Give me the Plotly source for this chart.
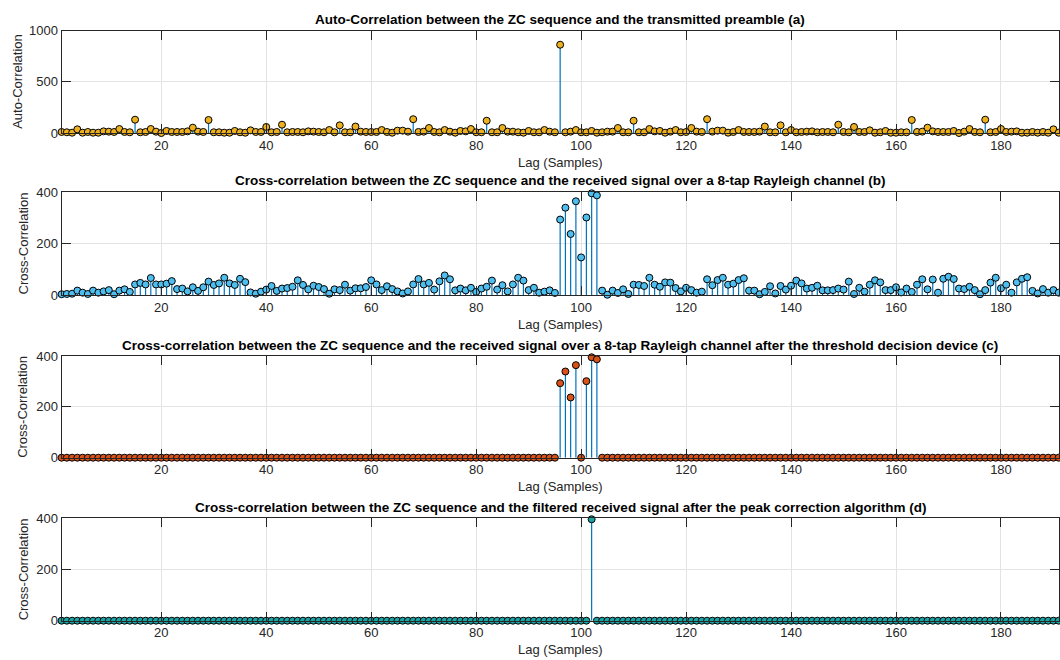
import plotly.graph_objects as go

# Lag axis (samples)
lags = list(range(1, 192))

# (a) auto-correlation magnitude
auto_corr = [
    10, 7, 3, 36, 3, 10, 3, 3, 16, 13, 10, 39, 10, 7, 130, 7, 10, 39, 13, 0,
    20, 10, 10, 10, 16, 52, 13, 10, 127, 7, 7, 3, 3, 20, 7, 3, 26, 10, 10, 59,
    7, 10, 81, 7, 10, 10, 7, 16, 13, 10, 7, 29, 7, 75, 7, 7, 63, 13, 10, 10,
    10, 29, 10, 3, 23, 23, 13, 135, 10, 13, 49, 10, 7, 29, 13, 3, 20, 16, 39, 7,
    7, 120, 7, 7, 49, 13, 13, 7, 3, 20, 7, 7, 29, 13, 7,
    863,
    7, 13, 29, 7, 7, 20, 3, 7, 13, 13, 49, 7, 7, 120, 7,
    7, 39, 16, 20, 3, 13, 29, 7, 10, 49, 13, 10, 135, 13, 23, 23, 3, 10, 29, 10,
    10, 10, 13, 63, 7, 7, 75, 7, 29, 7, 10, 13, 16, 7, 10, 10, 7, 81, 10, 7,
    59, 10, 10, 26, 3, 7, 20, 3, 3, 7, 7, 127, 10, 13, 52, 16, 10, 10, 10, 20,
    0, 13, 39, 10, 7, 130, 7, 10, 39, 10, 13, 16, 3, 3, 10, 3, 10, 3, 36, 3, 7, 10,
]

# (b) cross-correlation over the 8-tap Rayleigh channel
cross_corr = [
    3, 4, 5, 17, 9, 4, 17, 9, 14, 19, 3, 17, 22, 12, 41, 47, 41, 66, 41, 41,
    44, 54, 23, 25, 14, 30, 16, 30, 52, 39, 45, 67, 45, 39, 63, 50, 10, 5, 13, 21,
    35, 16, 25, 27, 32, 57, 39, 22, 36, 31, 23, 5, 22, 19, 40, 17, 26, 26, 31, 57,
    41, 19, 34, 23, 14, 6, 14, 41, 62, 41, 47, 21, 53, 76, 61, 18, 25, 18, 28, 12,
    25, 32, 56, 21, 38, 14, 41, 67, 56, 19, 28, 9, 13, 18, 8,
    293, 339, 237, 364, 146, 301, 395, 387,
    17, 1, 17, 8, 22, 4, 40, 39, 35, 67, 40, 32, 49, 48, 27, 14, 28, 19, 9, 13,
    61, 38, 58, 67, 40, 44, 58, 65, 17, 17, 3, 12, 34, 6, 35, 21, 36, 56, 45, 25,
    28, 36, 18, 18, 19, 25, 21, 52, 4, 28, 13, 40, 57, 49, 19, 19, 30, 10, 25, 12,
    40, 61, 22, 60, 9, 63, 71, 62, 25, 23, 32, 19, 3, 19, 48, 67, 26, 40, 9, 49,
    63, 69, 16, 6, 23, 9, 19, 9,
]

# (c) after the threshold decision device
thresh_corr = [0] * 95 + [293, 339, 237, 364, 0, 301, 395, 387] + [0] * 88

# (d) after the peak correction algorithm
peak_corr = [0] * 101 + [395] + [0] * 89

panels = [
    dict(y=auto_corr, color="#EDB120", ymax=1000, dtick=500,
         ylabel="Auto-Correlation",
         title="Auto-Correlation between the ZC sequence and the transmitted preamble (a)",
         top=30.7, bottom=133.0),
    dict(y=cross_corr, color="#4DBEEE", ymax=400, dtick=200,
         ylabel="Cross-Correlation",
         title="Cross-correlation between the ZC sequence and the received signal over a 8-tap Rayleigh channel (b)",
         top=192.0, bottom=295.0),
    dict(y=thresh_corr, color="#D95319", ymax=400, dtick=200,
         ylabel="Cross-Correlation",
         title="Cross-correlation between the ZC sequence and the received signal over a 8-tap Rayleigh channel after the threshold decision device (c)",
         top=356.0, bottom=457.7),
    dict(y=peak_corr, color="#1AA5A5", ymax=400, dtick=200,
         ylabel="Cross-Correlation",
         title="Cross-correlation between the ZC sequence and the filtered received signal after the peak correction algorithm (d)",
         top=518.0, bottom=620.7),
]

W, H = 1060, 660
X0, X1 = 61.6, 1058.7
FONT = "Liberation Sans, Arial, Helvetica, sans-serif"
AX = "#262626"
STEM = "#0072BD"

fig = go.Figure()
annotations = []

for i, p in enumerate(panels):
    n = "" if i == 0 else str(i + 1)
    xa, ya = "x" + n, "y" + n

    # stems: one vertical segment per lag, from 0 up to the value
    sx, sy = [], []
    for lag, v in zip(lags, p["y"]):
        sx += [lag, lag, None]
        sy += [0, v, None]
    fig.add_trace(go.Scatter(x=sx, y=sy, mode="lines", xaxis=xa, yaxis=ya,
                             line=dict(color=STEM, width=1.2),
                             hoverinfo="skip", showlegend=False))
    fig.add_trace(go.Scatter(x=lags, y=p["y"], mode="markers", xaxis=xa, yaxis=ya,
                             marker=dict(size=7, color=p["color"],
                                         line=dict(color="#000000", width=1)),
                             showlegend=False, cliponaxis=False))

    dom_y = [1 - p["bottom"] / H, 1 - p["top"] / H]
    common = dict(showline=True, linecolor=AX, linewidth=1, mirror="ticks",
                  ticks="inside", ticklen=9, tickcolor=AX, tickwidth=1,
                  showgrid=True, gridcolor="#E3E3E3", gridwidth=1,
                  zeroline=False, automargin=False,
                  tickfont=dict(family=FONT, size=13, color=AX))
    fig.update_layout(**{
        ("xaxis" + n): dict(domain=[X0 / W, X1 / W], range=[1, 191],
                            tickvals=list(range(20, 181, 20)),
                            anchor=ya, **common),
        ("yaxis" + n): dict(domain=dom_y, range=[0, p["ymax"]],
                            tickvals=list(range(0, p["ymax"] + 1, p["dtick"])),
                            anchor=xa, **common),
    })

    xc = (X0 + X1) / 2 / W
    annotations.append(dict(text="<b>" + p["title"] + "</b>", x=xc,
                            y=1 - (p["top"] - 11) / H, xref="paper", yref="paper",
                            xanchor="center", yanchor="middle", showarrow=False,
                            font=dict(family=FONT, size=13.5, color="#000000")))
    annotations.append(dict(text="Lag (Samples)", x=xc,
                            y=1 - (p["bottom"] + 29) / H, xref="paper", yref="paper",
                            xanchor="center", yanchor="middle", showarrow=False,
                            font=dict(family=FONT, size=13, color=AX)))
    annotations.append(dict(text=p["ylabel"], x=(18 if i == 0 else 23) / W,
                            y=1 - (p["top"] + p["bottom"]) / 2 / H,
                            xref="paper", yref="paper", textangle=-90,
                            xanchor="center", yanchor="middle", showarrow=False,
                            font=dict(family=FONT, size=13, color=AX)))

fig.update_layout(width=W, height=H, margin=dict(l=0, r=0, t=0, b=0),
                  paper_bgcolor="white", plot_bgcolor="white",
                  annotations=annotations, showlegend=False)

fig.write_html("out.html")
